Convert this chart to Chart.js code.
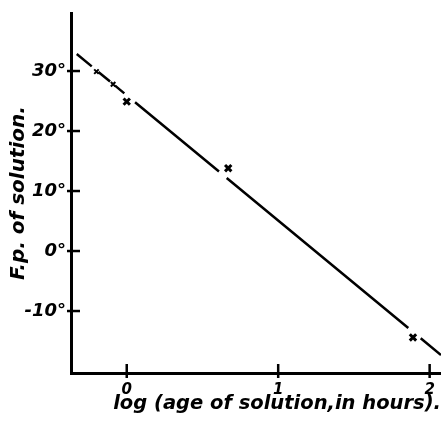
<!DOCTYPE html>
<html>
<head>
<meta charset="utf-8">
<script src="https://cdn.jsdelivr.net/npm/chart.js@4.4.1/dist/chart.umd.min.js"></script>
<style>
  html, body { margin: 0; padding: 0; background: #ffffff; }
  canvas { display: block; }
</style>
</head>
<body>
<canvas id="c" width="441" height="426"></canvas>
<script>
// Observations (crosses): log(age in hours) vs freezing point (°)
const crossX = [-0.20, -0.09, 0.00, 0.67, 1.89];
const crossY = [29.9, 27.8, 24.9, 13.8, -14.4];
const crossSize = [3.2, 3.2, 4.5, 4.5, 4.5];
const crossWidth = [2, 2, 3, 3, 3];

// Drawn straight line, broken into pieces (null = break in the line)
const lineX = [-0.33, -0.231, -0.21, -0.187, -0.110, -0.095, -0.077, -0.016, 0.02, 0.055, 0.609, 0.63, 0.660, 1.859, 1.90, 1.941, 2.075];
const lineY = [32.83, 30.77, null, 29.85, 28.24, null, 27.56, 26.28, null, 24.80, 13.25, null, 12.18, -12.83, null, -14.54, -17.33];

// Axis ticks
const xTicks = [0, 1, 2];
const yTicks = [-10, 0, 10, 20, 30];
const xRange = [-0.368, 2.075];
const yRange = [-20.33, 39.67];

const linePts = lineX.map((x, i) => ({ x: x, y: lineY[i] }));
const crossPts = crossX.map((x, i) => ({ x: x, y: crossY[i] }));

const FONT = "'DejaVu Sans', sans-serif";

const tickMarks = {
  id: 'tickMarks',
  afterDraw(chart) {
    const ctx = chart.ctx;
    const xs = chart.scales.x, ys = chart.scales.y;
    ctx.save();
    ctx.strokeStyle = '#000';
    ctx.lineWidth = 2.5;
    const yAxisX = chart.chartArea.left;
    yTicks.forEach(v => {
      const py = ys.getPixelForValue(v);
      ctx.beginPath();
      ctx.moveTo(yAxisX - 4, py);
      ctx.lineTo(yAxisX + 9, py);
      ctx.stroke();
    });
    const xAxisY = chart.chartArea.bottom;
    xTicks.forEach(v => {
      const px = xs.getPixelForValue(v);
      ctx.beginPath();
      ctx.moveTo(px, xAxisY - 9);
      ctx.lineTo(px, xAxisY + 5);
      ctx.stroke();
    });
    ctx.restore();
  }
};

new Chart(document.getElementById('c'), {
  type: 'scatter',
  data: {
    datasets: [
      {
        type: 'line',
        data: linePts,
        showLine: true,
        spanGaps: false,
        borderColor: '#000',
        borderWidth: 2.5,
        borderCapStyle: 'butt',
        pointRadius: 0,
        fill: false,
        tension: 0
      },
      {
        data: crossPts,
        showLine: false,
        pointStyle: 'crossRot',
        pointRadius: crossSize,
        pointBorderWidth: crossWidth,
        pointBorderColor: '#000',
        pointBackgroundColor: '#000'
      }
    ]
  },
  options: {
    responsive: false,
    animation: false,
    events: [],
    layout: { autoPadding: false, padding: { top: 13, right: 0, bottom: 0, left: 0 } },
    plugins: { legend: { display: false }, tooltip: { enabled: false } },
    scales: {
      x: {
        type: 'linear',
        min: xRange[0],
        max: xRange[1],
        afterBuildTicks: s => { s.ticks = xTicks.map(v => ({ value: v })); },
        afterFit: s => { s.height = 53; s.paddingLeft = 0; s.paddingRight = 0; },
        grid: { display: false, drawTicks: false },
        border: { display: true, color: '#000', width: 3 },
        ticks: {
          color: '#000',
          padding: 8,
          maxRotation: 0,
          font: { family: FONT, size: 15, style: 'italic', weight: 'bold' },
          callback: v => String(v)
        },
        title: {
          display: true,
          text: 'log (age of solution,in hours).',
          align: 'end',
          color: '#000',
          padding: { top: 0, bottom: 10 },
          font: { family: FONT, size: 19.5, style: 'italic', weight: 'bold' }
        }
      },
      y: {
        type: 'linear',
        min: yRange[0],
        max: yRange[1],
        afterBuildTicks: s => { s.ticks = yTicks.map(v => ({ value: v })); },
        afterFit: s => { s.width = 71; s.paddingTop = 0; s.paddingBottom = 0; },
        grid: { display: false, drawTicks: false },
        border: { display: true, color: '#000', width: 3 },
        ticks: {
          color: '#000',
          padding: 5,
          font: { family: FONT, size: 18, style: 'italic', weight: 'bold' },
          callback: v => v + '°'
        },
        title: {
          display: true,
          text: 'F.p. of solution.',
          color: '#000',
          padding: { top: 7, bottom: 0 },
          font: { family: FONT, size: 20, style: 'italic', weight: 'bold' }
        }
      }
    }
  },
  plugins: [tickMarks]
});
</script>
</body>
</html>
